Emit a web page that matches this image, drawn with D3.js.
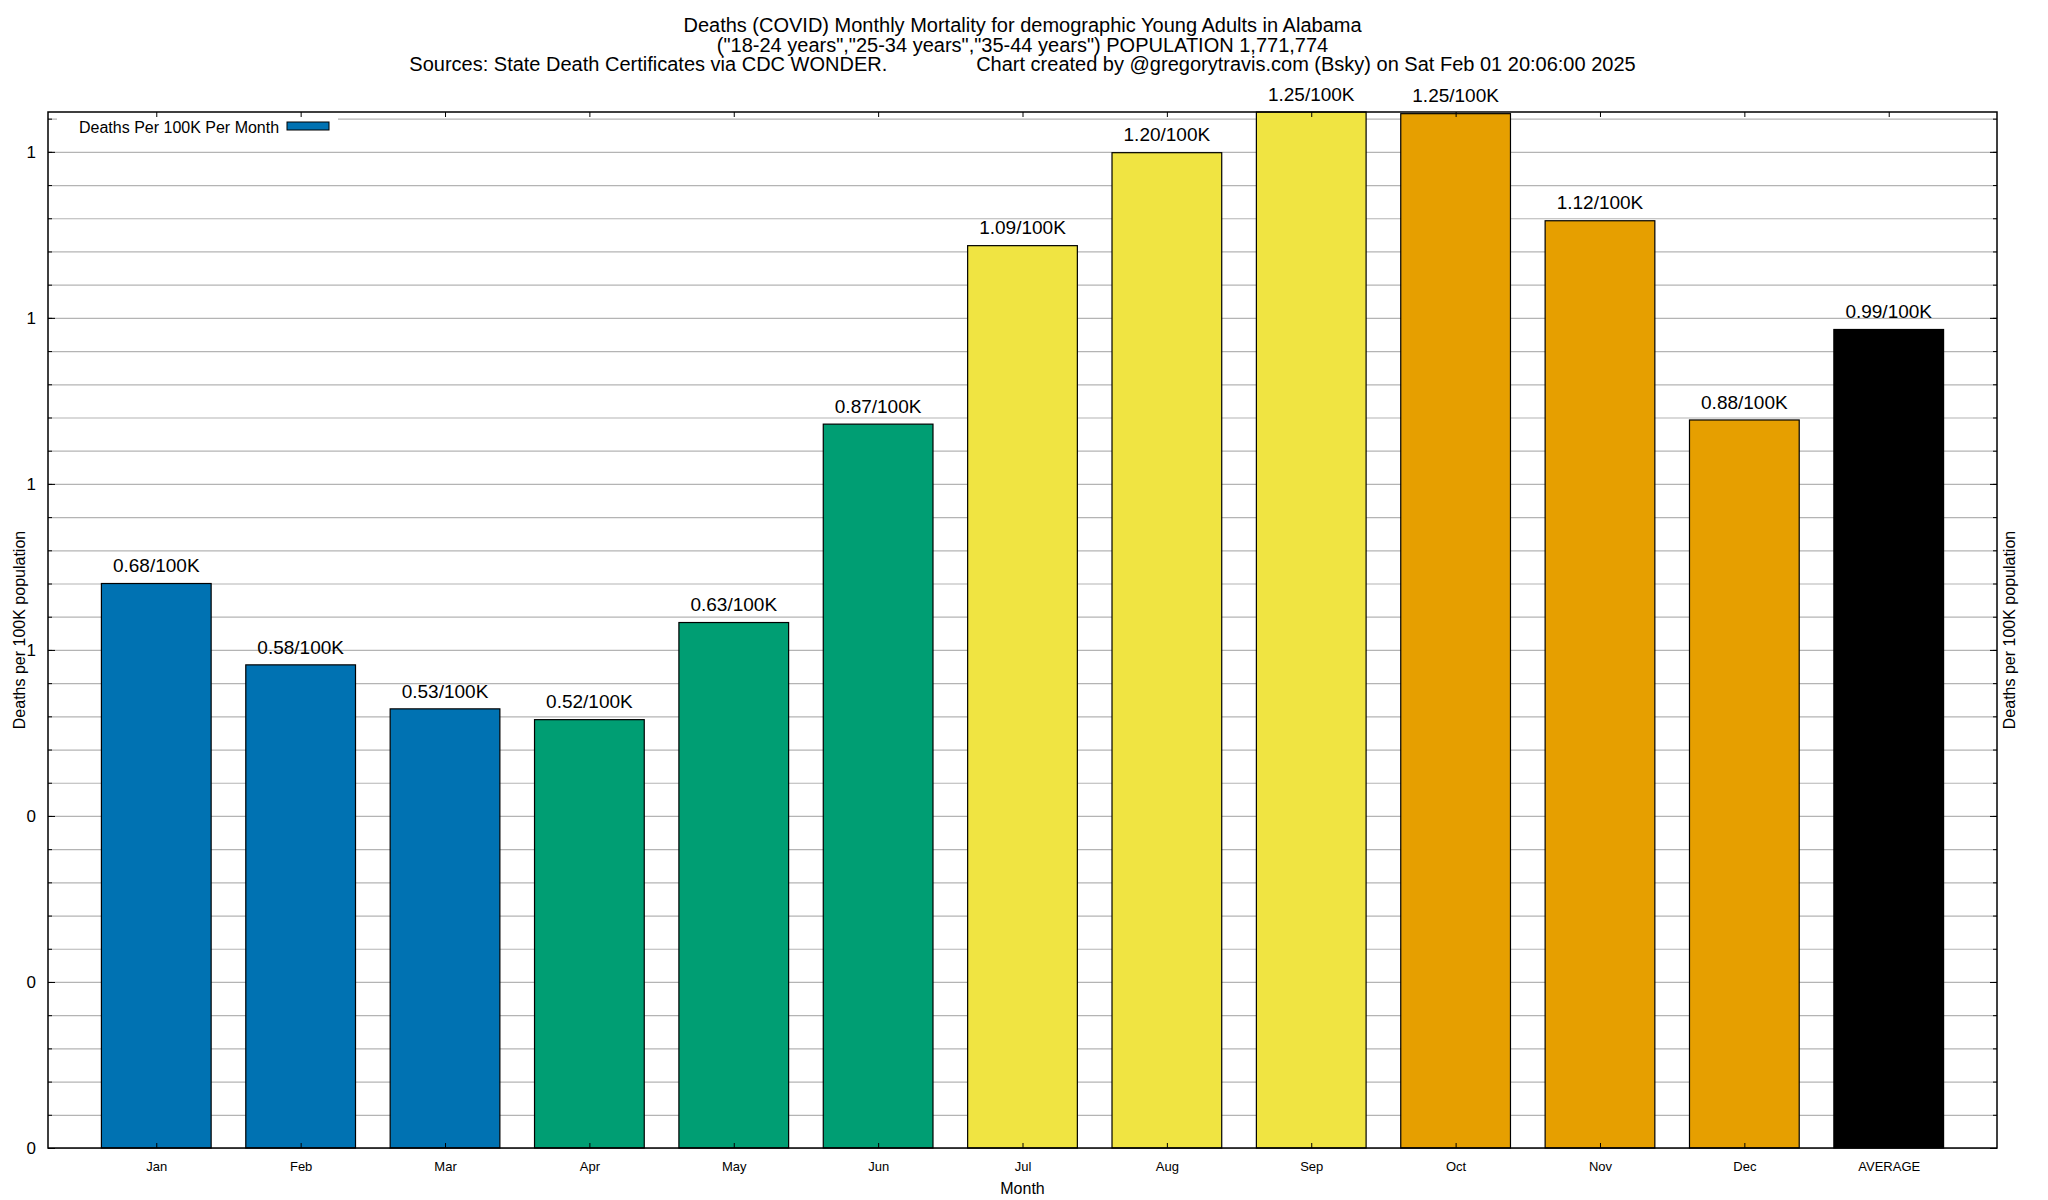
<!DOCTYPE html>
<html>
<head>
<meta charset="utf-8">
<script src="https://cdn.jsdelivr.net/npm/d3@7"></script>
<style>
  body { margin: 0; background: #fff; }
  svg { display: block; font-family: "Liberation Sans", Arial, Helvetica, sans-serif; }
  .title { white-space: pre; }
</style>
</head>
<body>
<div id="grafico"></div>
<script>
// dados do grafico
const meses = ["Jan", "Feb", "Mar", "Apr", "May", "Jun", "Jul", "Aug", "Sep", "Oct", "Nov", "Dec", "AVERAGE"];
const mortes = [0.680, 0.582, 0.529, 0.516, 0.633, 0.872, 1.087, 1.199, 1.248, 1.246, 1.117, 0.877, 0.986];
const cores = ["#0072b2", "#0072b2", "#0072b2", "#009e73", "#009e73", "#009e73",
               "#f0e442", "#f0e442", "#f0e442", "#e69f00", "#e69f00", "#e69f00", "#000000"];
const ticksMaiores = [0, 0.2, 0.4, 0.6, 0.8, 1.0, 1.2];
const titulos = [
    "Deaths (COVID) Monthly Mortality for demographic Young Adults in Alabama",
    "(\"18-24 years\",\"25-34 years\",\"35-44 years\") POPULATION 1,771,774",
    "Sources: State Death Certificates via CDC WONDER.                Chart created by @gregorytravis.com (Bsky) on Sat Feb 01 20:06:00 2025"
];

const width = 2048;
const height = 1200;
const margem = { left: 48, right: 51, top: 112, bottom: 52 };
const larguraGrafico = width - margem.left - margem.right;
const alturaGrafico = height - margem.top - margem.bottom;

const svg = d3.select("#grafico")
    .append("svg")
    .attr("width", width)
    .attr("height", height);

// Escalas
const xScale = d3.scaleLinear()
    .domain([-0.75, meses.length - 0.25])
    .range([0, larguraGrafico]);

const yScale = d3.scaleLinear()
    .domain([0, 1.248])
    .range([alturaGrafico, 0]);

const larguraBarra = xScale(0.76) - xScale(0);

// Titulos
svg.selectAll(".title")
    .data(titulos)
    .enter().append("text")
    .attr("class", "title")
    .attr("x", margem.left + larguraGrafico / 2)
    .attr("y", (d, i) => 25 + i * 19.5)
    .attr("dy", "0.35em")
    .attr("text-anchor", "middle")
    .attr("font-size", 20)
    .text(d => d);

const g = svg.append("g")
    .attr("transform", `translate(${margem.left},${margem.top})`);

// Linhas de grade
const ticksMenores = d3.range(0, 1.245, 0.04);
g.append("g")
    .attr("class", "grade")
    .call(d3.axisLeft(yScale).tickValues(ticksMenores).tickSize(-larguraGrafico).tickFormat(""))
    .call(s => s.select(".domain").remove())
    .call(s => s.selectAll("line").attr("stroke", "#b4b4b4").attr("stroke-width", 1.2));

// Fundo branco da legenda
g.append("rect")
    .attr("x", 9)
    .attr("y", 4)
    .attr("width", 281)
    .attr("height", 24)
    .attr("fill", "#fff");

// Barras
g.selectAll(".barra")
    .data(mortes)
    .enter().append("rect")
    .attr("class", "barra")
    .attr("x", (d, i) => xScale(i) - larguraBarra / 2)
    .attr("y", d => yScale(d))
    .attr("width", larguraBarra)
    .attr("height", d => alturaGrafico - yScale(d))
    .attr("fill", (d, i) => cores[i])
    .attr("stroke", "#000")
    .attr("stroke-width", 1.2);

// Rotulos das barras
g.selectAll(".rotulo")
    .data(mortes)
    .enter().append("text")
    .attr("class", "rotulo")
    .attr("x", (d, i) => xScale(i))
    .attr("y", d => yScale(d) - 18)
    .attr("dy", "0.35em")
    .attr("text-anchor", "middle")
    .attr("font-size", 19)
    .text(d => d.toFixed(2) + "/100K");

// Eixo Y esquerdo (ticks menores e maiores)
g.append("g")
    .call(d3.axisLeft(yScale).tickValues(ticksMenores).tickSize(-4).tickFormat(""))
    .call(s => s.select(".domain").remove());
g.append("g")
    .call(d3.axisLeft(yScale).tickValues(ticksMaiores).tickSize(-7).tickPadding(12).tickFormat(d3.format(".0f")))
    .call(s => s.select(".domain").remove())
    .call(s => s.selectAll("text").attr("font-size", 17).attr("font-family", null));

// Eixo Y direito
g.append("g")
    .attr("transform", `translate(${larguraGrafico},0)`)
    .call(d3.axisRight(yScale).tickValues(ticksMenores).tickSize(-4).tickFormat(""))
    .call(s => s.select(".domain").remove());
g.append("g")
    .attr("transform", `translate(${larguraGrafico},0)`)
    .call(d3.axisRight(yScale).tickValues(ticksMaiores).tickSize(-7).tickFormat(""))
    .call(s => s.select(".domain").remove());

// Eixo X (embaixo) e ticks espelhados em cima
g.append("g")
    .attr("transform", `translate(0,${alturaGrafico})`)
    .call(d3.axisBottom(xScale).tickValues(d3.range(meses.length)).tickSize(-5).tickPadding(14).tickFormat(i => meses[i]))
    .call(s => s.select(".domain").remove())
    .call(s => s.selectAll("text").attr("font-size", 13).attr("font-family", null));
g.append("g")
    .call(d3.axisTop(xScale).tickValues(d3.range(meses.length)).tickSize(-5).tickFormat(""))
    .call(s => s.select(".domain").remove());

// Moldura
g.append("rect")
    .attr("width", larguraGrafico)
    .attr("height", alturaGrafico)
    .attr("fill", "none")
    .attr("stroke", "#000")
    .attr("stroke-width", 1.5);

// Legenda
g.append("text")
    .attr("x", 31)
    .attr("y", 15)
    .attr("dy", "0.35em")
    .attr("font-size", 16)
    .text("Deaths Per 100K Per Month");
g.append("rect")
    .attr("x", 239)
    .attr("y", 10)
    .attr("width", 42)
    .attr("height", 8)
    .attr("fill", cores[0])
    .attr("stroke", "#000")
    .attr("stroke-width", 1);

// Rotulos dos eixos
svg.append("text")
    .attr("x", margem.left + larguraGrafico / 2)
    .attr("y", 1188)
    .attr("dy", "0.35em")
    .attr("text-anchor", "middle")
    .attr("font-size", 16)
    .text("Month");

svg.append("text")
    .attr("transform", `translate(19,${margem.top + alturaGrafico / 2}) rotate(-90)`)
    .attr("dy", "0.35em")
    .attr("text-anchor", "middle")
    .attr("font-size", 16)
    .text("Deaths per 100K population");

svg.append("text")
    .attr("transform", `translate(2009,${margem.top + alturaGrafico / 2}) rotate(-90)`)
    .attr("dy", "0.35em")
    .attr("text-anchor", "middle")
    .attr("font-size", 16)
    .text("Deaths per 100K population");
</script>
</body>
</html>
